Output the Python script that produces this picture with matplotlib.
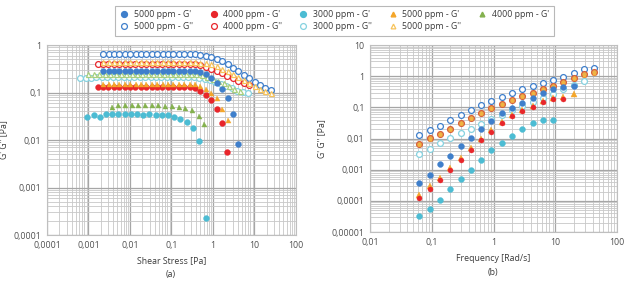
import matplotlib
matplotlib.use("Agg")
import matplotlib.pyplot as plt
from matplotlib.lines import Line2D
from matplotlib.ticker import LogLocator, FixedLocator, NullFormatter

plt.rcParams['font.family'] = ['Open Sans', 'DejaVu Sans']

# ---------------- Panel (a): stress sweep ----------------
xs_a = [0.00225, 0.00304, 0.0041, 0.0055, 0.0075, 0.0101, 0.0136, 0.0184, 0.0248, 0.0335,
        0.0452, 0.061, 0.0824, 0.111, 0.15, 0.203, 0.274, 0.37, 0.5, 0.675, 0.91, 1.23,
        1.66, 2.24, 3.03, 4.09, 5.52, 7.45, 10.1, 13.6, 18.3, 24.7]
a_5000_Gpp = [0.66, 0.65, 0.65, 0.66, 0.65, 0.65, 0.65, 0.65, 0.65, 0.65, 0.65, 0.65, 0.65,
              0.65, 0.65, 0.65, 0.65, 0.64, 0.63, 0.6, 0.56, 0.51, 0.45, 0.39, 0.33, 0.28,
              0.235, 0.2, 0.17, 0.145, 0.125, 0.113]
a_5000t_Gpp = [0.43, 0.43, 0.43, 0.43, 0.43, 0.43, 0.43, 0.43, 0.43, 0.43, 0.43, 0.43, 0.43,
               0.43, 0.43, 0.43, 0.43, 0.43, 0.42, 0.41, 0.39, 0.36, 0.32, 0.28, 0.25, 0.215,
               0.185, 0.16, 0.138, 0.12, 0.107, 0.098]
a_5000_Gp = [0.29, 0.29, 0.29, 0.29, 0.29, 0.29, 0.29, 0.29, 0.29, 0.29, 0.29, 0.29, 0.29,
             0.29, 0.29, 0.29, 0.29, 0.285, 0.27, 0.245, 0.205, 0.16, 0.12, 0.075, 0.035, 0.0082]
a_5000t_Gp = [0.15, 0.15, 0.15, 0.15, 0.15, 0.15, 0.15, 0.15, 0.15, 0.15, 0.15, 0.15, 0.15,
              0.15, 0.15, 0.15, 0.15, 0.15, 0.14, 0.12, 0.1, 0.075, 0.045, 0.026]

xs_b = [0.00165, 0.00223, 0.003, 0.0041, 0.0055, 0.0074, 0.01, 0.0135, 0.0183, 0.0246,
        0.0333, 0.045, 0.0607, 0.082, 0.111, 0.149, 0.202, 0.272, 0.368, 0.5, 0.67, 0.9,
        1.22, 1.65, 2.23, 3.0, 4.05, 5.47, 7.4]
a_4000_Gpp = [0.40, 0.40, 0.40, 0.40, 0.40, 0.40, 0.40, 0.40, 0.40, 0.40, 0.40, 0.40, 0.40,
              0.40, 0.40, 0.40, 0.40, 0.40, 0.39, 0.375, 0.35, 0.32, 0.29, 0.255, 0.225, 0.2,
              0.175, 0.158, 0.145]
a_4000_Gp = [0.133, 0.133, 0.133, 0.133, 0.133, 0.133, 0.133, 0.133, 0.133, 0.133, 0.133,
             0.133, 0.133, 0.133, 0.133, 0.133, 0.133, 0.133, 0.125, 0.11, 0.09, 0.068, 0.045,
             0.023, 0.0055]

xs_c = [0.00094, 0.00133, 0.00187, 0.00264, 0.00372, 0.00525, 0.0074, 0.0104, 0.0147, 0.0208,
        0.0293, 0.0413, 0.0583, 0.0822, 0.116, 0.164, 0.231, 0.326, 0.46, 0.67]
a_3000_Gp = [0.031, 0.034, 0.030, 0.036, 0.036, 0.035, 0.036, 0.035, 0.035, 0.034, 0.035,
             0.034, 0.033, 0.033, 0.03, 0.028, 0.024, 0.018, 0.0095, 0.00023]

xs_d = [0.00063, 0.00085, 0.00115, 0.00155, 0.0021, 0.0028, 0.0038, 0.0052, 0.007, 0.0094,
        0.0127, 0.0172, 0.0232, 0.0313, 0.0423, 0.057, 0.077, 0.104, 0.14, 0.19, 0.256, 0.346,
        0.467, 0.63, 0.85, 1.15, 1.55, 2.1, 2.83, 3.82, 5.16, 6.96]
a_3000_Gpp = [0.2, 0.2, 0.205, 0.21, 0.21, 0.21, 0.21, 0.21, 0.21, 0.21, 0.21, 0.21, 0.21,
              0.21, 0.21, 0.21, 0.21, 0.21, 0.21, 0.21, 0.21, 0.21, 0.205, 0.195, 0.18, 0.165,
              0.15, 0.135, 0.122, 0.11, 0.102, 0.097]

xs_e = [0.001, 0.00135, 0.00182, 0.00246, 0.0033, 0.0045, 0.006, 0.0082, 0.011, 0.0149, 0.02,
        0.027, 0.0366, 0.049, 0.067, 0.09, 0.121, 0.164, 0.22, 0.3, 0.4, 0.54, 0.73, 0.99,
        1.34, 1.8, 2.43, 3.3, 4.45]
a_4000t_Gpp = [0.245, 0.245, 0.245, 0.245, 0.245, 0.245, 0.245, 0.245, 0.245, 0.245, 0.245,
               0.245, 0.245, 0.245, 0.245, 0.245, 0.245, 0.245, 0.245, 0.245, 0.24, 0.23,
               0.215, 0.195, 0.175, 0.155, 0.135, 0.12, 0.108]

xs_f = [0.0036, 0.0052, 0.0076, 0.011, 0.016, 0.023, 0.0335, 0.0486, 0.0705, 0.102, 0.148,
        0.215, 0.31, 0.45, 0.62]
a_4000t_Gp = [0.05, 0.055, 0.054, 0.055, 0.055, 0.054, 0.055, 0.054, 0.053, 0.052, 0.05,
              0.047, 0.042, 0.032, 0.022]

# ---------------- Panel (b): frequency sweep ----------------
freq = [0.0628, 0.0922, 0.135, 0.199, 0.292, 0.428, 0.628, 0.922, 1.35, 1.99, 2.92, 4.28,
        6.28, 9.22, 13.5, 19.9, 29.2, 42.8]
b_5000_Gpp = [0.0130, 0.0188, 0.0258, 0.0393, 0.0568, 0.082, 0.119, 0.160, 0.22, 0.30, 0.39,
              0.50, 0.63, 0.75, 0.96, 1.29, 1.66, 1.87]
b_4000_Gpp = [0.0067, 0.0101, 0.014, 0.0202, 0.0307, 0.0466, 0.0675, 0.093, 0.128, 0.172,
              0.231, 0.30, 0.39, 0.50, 0.67, 0.90, 1.15, 1.33]
b_5000t_Gpp = [0.0068, 0.0098, 0.0142, 0.0205, 0.031, 0.046, 0.068, 0.094, 0.127, 0.17,
               0.228, 0.3, 0.385, 0.49, 0.66, 0.88, 1.12, 1.3]
b_3000_Gpp = [0.0032, 0.0048, 0.007, 0.0105, 0.0155, 0.021, 0.030, 0.042, 0.058, 0.08, 0.11,
              0.15, 0.2, 0.27, 0.38, 0.52, 0.72]
b_5000_Gp = [0.00037, 0.00068, 0.00148, 0.0028, 0.0057, 0.0107, 0.020, 0.037, 0.064, 0.098,
             0.144, 0.204, 0.30, 0.39, 0.46, 0.49]
b_4000_Gp = [1.2e-4, 2.4e-4, 4.7e-4, 0.00098, 0.002, 0.0043, 0.0087, 0.0166, 0.032, 0.052,
             0.076, 0.105, 0.15, 0.19, 0.19]
b_5000t_Gp = [1.5e-4, 2.9e-4, 5.6e-4, 0.00115, 0.0024, 0.005, 0.01, 0.019, 0.035, 0.056, 0.08,
              0.11, 0.16, 0.2, 0.21, 0.27]
b_3000_Gp = [3.3e-5, 5.4e-5, 1.07e-4, 2.35e-4, 4.9e-4, 0.00098, 0.002, 0.0043, 0.0074, 0.012,
             0.021, 0.032, 0.040, 0.039]

legend_labels = ["5000 ppm - G'", "5000 ppm - G''", "4000 ppm - G'", "4000 ppm - G''",
                 "3000 ppm - G'", "3000 ppm - G''", "5000 ppm - G'", "5000 ppm - G''",
                 "4000 ppm - G'"]

x_ticks_a = [0.0001, 0.001, 0.01, 0.1, 1, 10, 100]
x_ticklabels_a = ["0,0001", "0,001", "0,01", "0,1", "1", "10", "100"]
y_ticks_a = [0.0001, 0.001, 0.01, 0.1, 1]
y_ticklabels_a = ["0,0001", "0,001", "0,01", "0,1", "1"]
x_ticks_b = [0.01, 0.1, 1, 10, 100]
x_ticklabels_b = ["0,01", "0,1", "1", "10", "100"]
y_ticks_b = [0.00001, 0.0001, 0.001, 0.01, 0.1, 1, 10]
y_ticklabels_b = ["0,00001", "0,0001", "0,001", "0,01", "0,1", "1", "10"]

# ---------------- styles ----------------
BLUE = '#3F7FCB'
RED = '#E8262B'
CYAN = '#4CBCD3'
CYAN_L = '#86D2E0'
ORANGE = '#F4A62A'
ORANGE_L = '#F7C35A'
GREEN = '#84B14E'
GREEN_L = '#A8CF7C'
MS = 4.2
MEW = 0.9
TXT = '#3A3A3A'

fig = plt.figure(figsize=(6.24, 2.84), dpi=100)
axA = fig.add_axes([0.0753, 0.1725, 0.399, 0.669])
axB = fig.add_axes([0.593, 0.183, 0.396, 0.658])


def filled(ax, x, y, color, marker='o', ms=MS):
    return ax.plot(x[:len(y)], y, linestyle='none', marker=marker, ms=ms,
                   mfc=color, mec=color, mew=0.3, zorder=3)[0]


def hollow(ax, x, y, color, marker='o', ms=MS):
    return ax.plot(x[:len(y)], y, linestyle='none', marker=marker, ms=ms,
                   mfc='white', mec=color, mew=MEW, zorder=3)[0]


# panel a
hollow(axA, xs_d, a_3000_Gpp, CYAN_L)
hollow(axA, xs_e, a_4000t_Gpp, GREEN_L, marker='^', ms=3.6)
hollow(axA, xs_a, a_5000_Gpp, BLUE)
hollow(axA, xs_b, a_4000_Gpp, RED)
hollow(axA, xs_a, a_5000t_Gpp, ORANGE_L, marker='^', ms=3.6)
filled(axA, xs_a, a_5000_Gp, BLUE)
filled(axA, xs_b, a_4000_Gp, RED)
filled(axA, xs_a, a_5000t_Gp, ORANGE, marker='^', ms=3.6)
filled(axA, xs_c, a_3000_Gp, CYAN)
filled(axA, xs_f, a_4000t_Gp, GREEN, marker='^', ms=3.6)

# panel b
hollow(axB, freq, b_5000_Gpp, BLUE)
hollow(axB, freq, b_3000_Gpp, CYAN_L)
axB.plot(freq[:len(b_4000_Gpp)], b_4000_Gpp, linestyle='none', marker='o', ms=MS,
         mfc='#E9B04A', mec='#D8603A', mew=MEW, zorder=3)
axB.plot(freq[:len(b_5000t_Gpp)], b_5000t_Gpp, linestyle='none', marker='^', ms=2.6,
         mfc='#F3B540', mec='#F3B540', mew=0.3, zorder=3)
filled(axB, freq, b_5000_Gp, BLUE)
filled(axB, freq, b_3000_Gp, CYAN)
filled(axB, freq, b_5000t_Gp, ORANGE, marker='^', ms=4.4)
filled(axB, freq, b_4000_Gp, RED, ms=3.6)

for ax, xlim, ylim, xt, xtl, yt, ytl in [
        (axA, (1e-4, 100), (1e-4, 1), x_ticks_a, x_ticklabels_a, y_ticks_a, y_ticklabels_a),
        (axB, (0.01, 100), (1e-5, 10), x_ticks_b, x_ticklabels_b, y_ticks_b, y_ticklabels_b)]:
    ax.set_xscale('log')
    ax.set_yscale('log')
    ax.set_xlim(*xlim)
    ax.set_ylim(*ylim)
    ax.xaxis.set_major_locator(FixedLocator(xt))
    ax.yaxis.set_major_locator(FixedLocator(yt))
    ax.set_xticklabels(xtl)
    ax.set_yticklabels(ytl)
    ax.xaxis.set_minor_locator(LogLocator(base=10, subs=range(2, 10), numticks=20))
    ax.yaxis.set_minor_locator(LogLocator(base=10, subs=range(2, 10), numticks=20))
    ax.xaxis.set_minor_formatter(NullFormatter())
    ax.yaxis.set_minor_formatter(NullFormatter())
    ax.grid(True, which='major', color='#A6A6A6', lw=0.9)
    ax.grid(True, which='minor', color='#C8C8C8', lw=0.6)
    ax.set_axisbelow(True)
    ax.tick_params(which='both', length=0, labelsize=6.3, labelcolor='#505050', pad=4)
    for s in ax.spines.values():
        s.set_color('#BFBFBF')
        s.set_linewidth(0.8)
    ax.set_ylabel("G' G'' [Pa]", fontsize=6.3, color=TXT, labelpad=4)

axA.set_xlabel("Shear Stress [Pa]", fontsize=6.3, color=TXT, labelpad=5)
axB.set_xlabel("Frequency [Rad/s]", fontsize=6.3, color=TXT, labelpad=5)
fig.text(0.274, 0.025, "(a)", ha='center', fontsize=6.3, color=TXT)
fig.text(0.790, 0.033, "(b)", ha='center', fontsize=6.3, color=TXT)

# legend
handles = [
    Line2D([], [], ls='none', marker='o', ms=MS, mfc=BLUE, mec=BLUE),
    Line2D([], [], ls='none', marker='o', ms=MS, mfc='white', mec=BLUE, mew=MEW),
    Line2D([], [], ls='none', marker='o', ms=MS, mfc=RED, mec=RED),
    Line2D([], [], ls='none', marker='o', ms=MS, mfc='white', mec=RED, mew=MEW),
    Line2D([], [], ls='none', marker='o', ms=MS, mfc=CYAN, mec=CYAN),
    Line2D([], [], ls='none', marker='o', ms=MS, mfc='white', mec=CYAN_L, mew=MEW),
    Line2D([], [], ls='none', marker='^', ms=3.4, mfc=ORANGE, mec=ORANGE),
    Line2D([], [], ls='none', marker='^', ms=3.4, mfc='white', mec=ORANGE_L, mew=MEW),
    Line2D([], [], ls='none', marker='^', ms=3.4, mfc=GREEN, mec=GREEN),
]
leg = fig.legend(handles, legend_labels, loc='upper center', bbox_to_anchor=(0.536, 0.995),
                 ncol=5, fontsize=6.3, frameon=True, fancybox=False, edgecolor='#A6A6A6',
                 handlelength=1.0, handletextpad=0.6, columnspacing=1.9, borderpad=0.5,
                 labelspacing=0.35)
leg.get_frame().set_linewidth(0.8)
for t in leg.get_texts():
    t.set_color(TXT)

fig.savefig("out.png", dpi=100)
